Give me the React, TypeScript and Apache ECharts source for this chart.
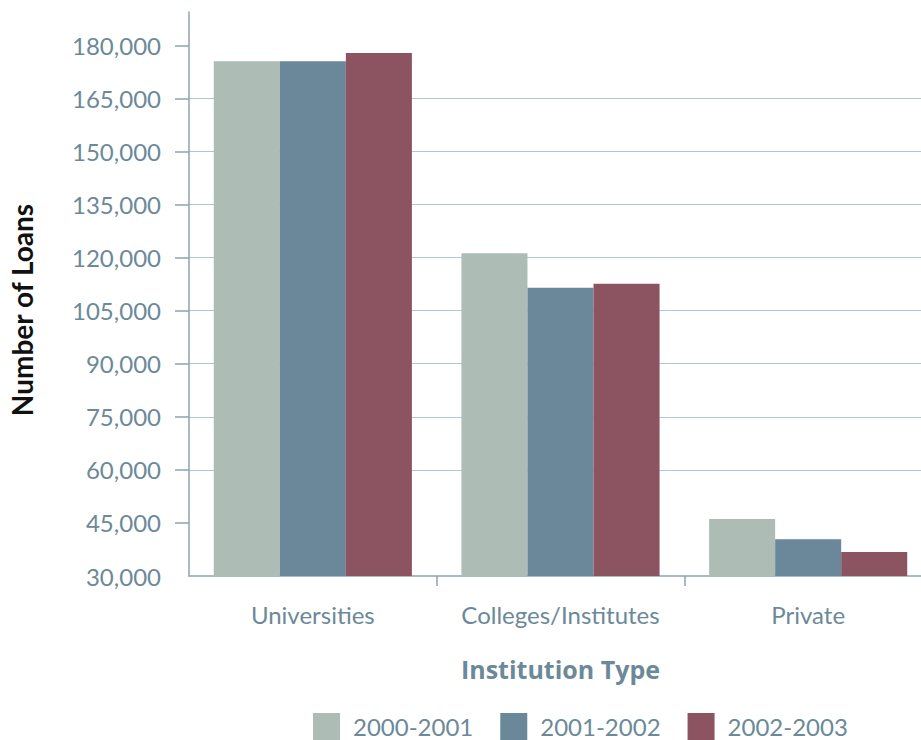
import React, { useEffect, useRef } from "react";
import * as echarts from "echarts";

const categories = ["Universities", "Colleges/Institutes", "Private"];
const seriesNames = ["2000-2001", "2001-2002", "2002-2003"];
const values2000 = [175500, 121200, 46100];
const values2001 = [175500, 111500, 40400];
const values2002 = [177800, 112600, 36800];
const yTickValues = [30000, 45000, 60000, 75000, 90000, 105000, 120000, 135000, 150000, 165000, 180000];
const colors = ["#aebcb6", "#6a8899", "#8c5461"];

const TEXT = "#6b8999";

export default function App() {
  const ref = useRef<HTMLDivElement>(null);
  useEffect(() => {
    if (!ref.current) return;
    const chart = echarts.init(ref.current, undefined, { renderer: "svg" });
    const seriesData = [values2000, values2001, values2002];
    chart.setOption({
      animation: false,
      backgroundColor: "#ffffff",
      color: colors,
      grid: { left: 188, right: 8, top: 12, bottom: 164, containLabel: false },
      legend: {
        left: 313,
        top: 713,
        padding: 0,
        itemWidth: 27,
        itemHeight: 27,
        itemGap: 27,
        icon: "rect",
        textStyle: { color: TEXT, fontFamily: "Lato", fontSize: 24, padding: [0, 0, 0, 8] },
        data: seriesNames,
      },
      xAxis: {
        type: "category",
        data: categories,
        name: "Institution Type",
        nameLocation: "middle",
        nameGap: 93,
        nameTextStyle: {
          color: TEXT,
          fontFamily: "Open Sans",
          fontWeight: "bold",
          fontSize: 25,
          verticalAlign: "middle",
        },
        axisLine: { lineStyle: { color: "#8ea3b0", width: 1.5 } },
        axisTick: {
          show: true,
          length: 10,
          lineStyle: { color: "#8ea3b0", width: 1.5 },
          interval: (idx: number) => idx !== 0,
        },
        axisLabel: {
          color: TEXT,
          fontFamily: "Lato",
          fontSize: 24,
          margin: 26,
          interval: 0,
          hideOverlap: false,
        },
        splitLine: { show: false },
      },
      yAxis: {
        type: "value",
        min: 30000,
        max: 189400,
        interval: 15000,
        name: "Number of Loans",
        nameLocation: "middle",
        nameGap: 167,
        nameTextStyle: {
          color: "#111111",
          fontFamily: "Lato",
          fontWeight: "bold",
          fontSize: 28,
          verticalAlign: "middle",
          padding: [0, 32, 0, 0],
        },
        axisLine: { show: true, lineStyle: { color: "#8ea3b0", width: 1.5 } },
        axisTick: {
          show: true,
          length: 14,
          lineStyle: { color: "#8ea3b0", width: 1.5 },
          customValues: yTickValues.filter((v) => v !== 30000),
        },
        axisLabel: {
          color: TEXT,
          fontFamily: "Lato",
          fontSize: 24,
          margin: 28,
          customValues: yTickValues,
          formatter: (v: number) => v.toLocaleString("en-US"),
        },
        splitLine: {
          show: true,
          showMinLine: false,
          showMaxLine: false,
          lineStyle: { color: "#b5c5d0", width: 1.2 },
        },
      },
      series: seriesNames.map((name, i) => ({
        name,
        type: "bar",
        data: seriesData[i],
        barGap: "0%",
        barCategoryGap: "20%",
        itemStyle: { color: colors[i] },
      })),
    });
    return () => chart.dispose();
  }, []);
  return (
    <div
      ref={ref}
      style={{ position: "fixed", left: 0, top: 0, width: 940, height: 740 }}
    />
  );
}
